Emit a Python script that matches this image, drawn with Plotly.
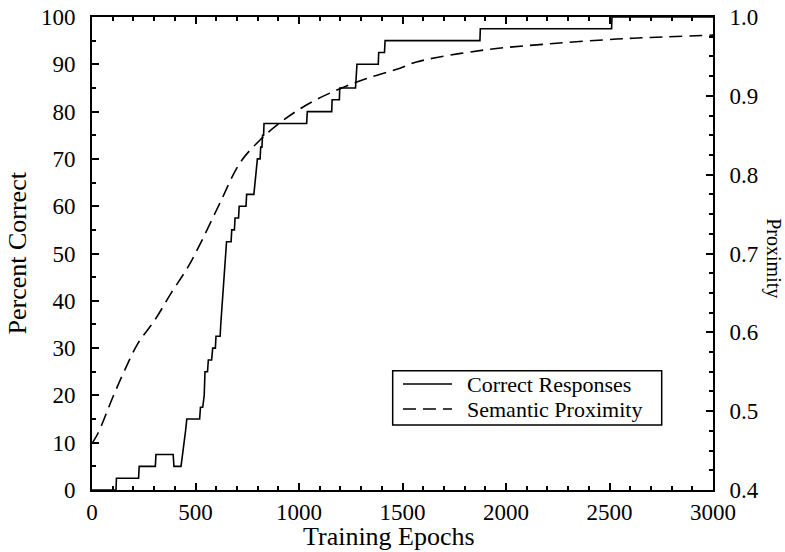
import plotly.graph_objects as go

# Correct responses (percent) vs training epochs (step-like curve)
epochs_correct = [0, 116, 118, 225, 228, 306, 309, 392, 396, 430, 452, 458, 520, 524, 535,
                  542, 546, 558, 562, 578, 583, 596, 599, 619, 622, 634, 650, 672, 675,
                  688, 691, 708, 711, 744, 747, 782, 799, 812, 815, 821, 824, 829, 831,
                  1037, 1040, 1158, 1160, 1195, 1197, 1273, 1280, 1383, 1385, 1413, 1416,
                  1874, 1876, 2510, 2512, 3000]
pct_correct = [0, 0, 2.5, 2.5, 5, 5, 7.5, 7.5, 5, 5, 12.5, 15, 15, 17.5, 17.5,
               20, 25, 25, 27.5, 27.5, 30, 30, 32.5, 32.5, 35, 42.5, 52.5, 52.5, 55,
               55, 57.5, 57.5, 60, 60, 62.5, 62.5, 70, 70, 72.5, 72.5, 75, 75, 77.5,
               77.5, 80, 80, 82.5, 82.5, 85, 85, 90, 90, 92.5, 92.5, 95,
               95, 97.5, 97.5, 100, 100]

# Semantic proximity vs training epochs
epochs_prox = [0, 29, 101, 158, 222, 302, 383, 464, 530, 618, 715, 812, 924, 1053,
               1198, 1327, 1488, 1568, 1890, 2213, 2534, 2696, 3000]
proximity = [0.459, 0.472, 0.518, 0.552, 0.586, 0.615, 0.650, 0.683, 0.716, 0.764,
             0.815, 0.844, 0.869, 0.891, 0.909, 0.922, 0.935, 0.943, 0.958, 0.966,
             0.972, 0.974, 0.977]

series_names = ["Correct Responses", "Semantic Proximity"]

FONT = "Liberation Serif"
DASH = "13px,7px"

fig = go.Figure()
fig.add_trace(go.Scatter(x=epochs_correct, y=pct_correct, mode="lines",
                         name=series_names[0],
                         line=dict(color="black", width=1.6)))
fig.add_trace(go.Scatter(x=epochs_prox, y=proximity, mode="lines",
                         name=series_names[1], yaxis="y2",
                         line=dict(color="black", width=1.6, dash=DASH, shape="spline")))

axis_common = dict(showgrid=False, zeroline=False, showline=True, linecolor="black",
                   linewidth=2, ticks="inside", tickcolor="black", ticklen=7, tickwidth=1.5,
                   automargin=False, ticklabeloverflow="allow",
                   tickfont=dict(family=FONT, size=23, color="black"))

# manual legend (box, line samples, labels) in paper coordinates
leg_box = dict(x0=0.4842, x1=0.9174, y0=0.1374, y1=0.2522)
leg_rows_y = [0.2241, 0.1712]
leg_line_x = [0.5008, 0.5797]
leg_text_x = 0.6006

shapes = [dict(type="rect", xref="paper", yref="paper", **leg_box,
               line=dict(color="black", width=1.5), fillcolor="white", layer="above")]
shapes.append(dict(type="line", xref="paper", yref="paper", x0=leg_line_x[0], x1=leg_line_x[1],
                   y0=leg_rows_y[0], y1=leg_rows_y[0], line=dict(color="black", width=1.6),
                   layer="above"))
shapes.append(dict(type="line", xref="paper", yref="paper", x0=leg_line_x[0], x1=leg_line_x[1],
                   y0=leg_rows_y[1], y1=leg_rows_y[1],
                   line=dict(color="black", width=1.6, dash=DASH), layer="above"))

annotations = [
    dict(text=series_names[i], xref="paper", yref="paper", x=leg_text_x, y=leg_rows_y[i],
         xanchor="left", yanchor="middle", showarrow=False,
         font=dict(family=FONT, size=22, color="black"))
    for i in range(2)
]
annotations += [
    dict(text="Percent Correct", xref="paper", yref="paper", x=0, y=0.5,
         xshift=-75, xanchor="center", yanchor="middle", textangle=-90, showarrow=False,
         font=dict(family=FONT, size=26, color="black")),
    dict(text="Training Epochs", xref="paper", yref="paper", x=0.4775, y=0,
         yshift=-46, xanchor="center", yanchor="middle", showarrow=False,
         font=dict(family=FONT, size=26, color="black")),
    dict(text="Proximity", xref="paper", yref="paper", x=1, y=0.49,
         xshift=61, xanchor="center", yanchor="middle", textangle=90, showarrow=False,
         font=dict(family=FONT, size=20, color="black")),
]

fig.update_layout(
    width=785, height=552,
    margin=dict(l=92, r=72, t=17, b=62),
    plot_bgcolor="white", paper_bgcolor="white",
    showlegend=False,
    xaxis=dict(range=[0, 3000], dtick=500, mirror="ticks",
               minor=dict(dtick=100, ticklen=4, ticks="inside", tickcolor="black"),
               ticklabelstandoff=0, **axis_common),
    yaxis=dict(range=[0, 100], dtick=10,
               minor=dict(dtick=5, ticklen=4, ticks="inside", tickcolor="black"),
               ticklabelstandoff=10, **axis_common),
    yaxis2=dict(range=[0.4, 1.0], dtick=0.1, tickformat=".1f", overlaying="y", side="right",
                minor=dict(dtick=0.025, ticklen=4, ticks="inside", tickcolor="black"),
                ticklabelstandoff=10, **axis_common),
    shapes=shapes,
    annotations=annotations,
)

# remove the default 8px page margin so the figure sits at the window's top-left corner
fig.write_html("out.html", config={"displayModeBar": False},
               post_script="document.body.style.margin='0';")
